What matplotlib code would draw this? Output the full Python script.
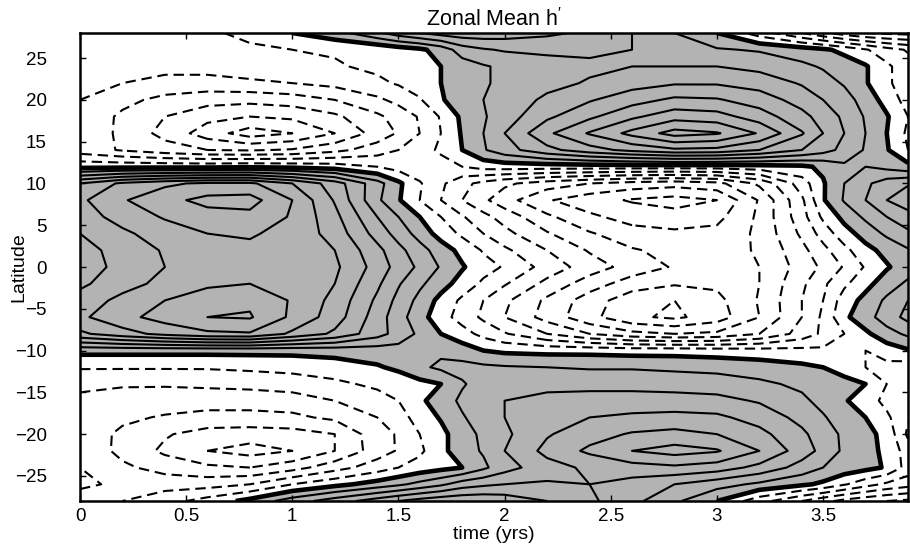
import numpy as np
import matplotlib
matplotlib.use("Agg")
import matplotlib.pyplot as plt

plt.rcParams['font.family'] = ['Liberation Sans', 'DejaVu Sans']
plt.rcParams['mathtext.fontset'] = 'custom'
plt.rcParams['mathtext.rm'] = 'Liberation Sans'
plt.rcParams['lines.dashed_pattern'] = [5.0, 2.8]

# ---- data ----
time_yrs = [0.0, 0.2, 0.4, 0.6, 0.8, 1.0, 1.2, 1.4, 1.5, 1.6, 1.7, 1.8, 1.9,
            2.0, 2.2, 2.4, 2.6, 2.8, 3.0, 3.2, 3.4, 3.5, 3.6, 3.7, 3.8, 3.9]
latitude = [-28, -26, -24, -22, -20, -18, -16, -14, -12, -10, -8, -6, -4, -2,
            0, 2, 4, 6, 8, 10, 12, 14, 16, 18, 20, 22, 24, 26, 28]

h_S28 = [-2.5, -2.0, -1.4, -0.6, 0.3, 1.5, 2.5, 3.5, 4.0, 4.4, 4.7, 4.8, 4.8, 4.6, 4.0, 3.2, 2.3, 1.2, 0.0, -1.6, -3.0, -3.7, -4.3, -4.7, -5.0, -5.2]
h_S26 = [-1.8, -2.2, -2.4, -2.4, -2.0, -1.0, -0.3, 0.4, 0.8, 1.3, 1.8, 2.5, 2.8, 3.0, 3.1, 3.0, 2.6, 2.0, 1.4, 0.8, 0.2, -0.2, -0.9, -1.6, -2.2, -2.6]
h_S24 = [-2.0, -2.8, -3.4, -3.8, -4.0, -3.4, -2.4, -1.5, -1.0, -0.6, -0.3, 0.0, 0.8, 1.6, 2.6, 3.2, 3.6, 3.8, 3.5, 2.7, 1.6, 1.0, 0.6, 0.3, -0.1, -1.4]
h_S22 = [-2.2, -3.3, -4.2, -5.0, -5.4, -5.0, -4.0, -2.5, -1.9, -1.2, -0.3, 0.6, 1.1, 2.0, 3.3, 4.2, 5.0, 5.4, 5.1, 4.0, 2.5, 1.7, 0.8, 0.3, -0.2, -1.5]
h_S20 = [-2.4, -3.2, -3.9, -4.4, -4.5, -4.4, -4.0, -2.4, -1.9, -1.0, -0.3, 0.6, 1.2, 1.8, 2.9, 3.6, 4.1, 4.3, 4.0, 3.3, 2.2, 1.5, 0.8, 0.3, -0.3, -2.2]
h_S18 = [-2.4, -2.8, -3.1, -3.3, -3.3, -3.2, -2.8, -2.0, -1.4, -0.6, 0.1, 0.9, 1.5, 2.0, 2.6, 3.0, 3.2, 3.3, 3.2, 2.6, 1.7, 1.1, 0.5, 0.0, -0.8, -1.9]
h_S16 = [-2.2, -2.4, -2.5, -2.6, -2.6, -2.5, -2.0, -1.4, -1.0, -0.2, 0.5, 1.2, 1.7, 2.0, 2.3, 2.4, 2.4, 2.4, 2.3, 1.9, 1.2, 0.7, 0.1, -0.5, -1.3, -1.8]
h_S14 = [-1.8, -1.9, -1.9, -1.8, -1.7, -1.5, -1.2, -0.8, -0.6, -0.3, 0.0, 0.9, 1.4, 1.6, 1.7, 1.7, 1.7, 1.6, 1.5, 1.2, 0.8, 0.6, 0.4, 0.0, -1.0, -1.6]
h_S12 = [-0.9, -0.9, -0.9, -0.9, -0.8, -0.7, -0.5, -0.1, 0.2, 0.8, 1.2, 1.3, 1.2, 1.1, 1.0, 0.9, 0.9, 0.8, 0.7, 0.5, 0.2, 0.0, -0.5, -1.0, -1.3, -1.5]
h_S10 = [0.3, 0.3, 0.3, 0.3, 0.3, 0.3, 0.4, 0.5, 0.6, 0.8, 0.8, 0.5, 0.0, -0.2, -0.3, -0.3, -0.4, -0.4, -0.5, -0.6, -0.7, -0.8, -0.9, -1.0, -0.5, -0.1]
h_S08 = [3.8, 4.6, 5.3, 5.8, 5.9, 4.8, 3.8, 2.4, 1.6, 0.8, 0.0, -0.6, -1.3, -1.9, -3.0, -4.0, -4.7, -5.0, -4.8, -4.0, -2.6, -1.8, -1.0, -0.2, 0.6, 1.2]
h_S06 = [4.8, 5.7, 6.4, 7.0, 7.1, 5.8, 4.5, 2.5, 1.4, 0.4, -0.6, -1.4, -2.2, -3.0, -4.4, -5.7, -6.8, -7.2, -6.5, -5.0, -3.0, -1.8, -0.2, 0.6, 1.5, 2.3]
h_S04 = [4.4, 5.3, 6.0, 6.6, 6.8, 5.9, 4.7, 2.8, 1.7, 0.7, -0.3, -1.2, -2.0, -2.8, -4.2, -5.5, -6.6, -7.0, -6.3, -4.9, -3.0, -2.0, -0.5, 0.3, 1.2, 2.0]
h_S02 = [3.8, 4.6, 5.3, 5.8, 6.0, 5.6, 5.0, 3.2, 2.1, 1.2, 0.4, -0.4, -1.2, -1.9, -3.3, -4.5, -5.5, -5.9, -5.8, -5.0, -3.2, -2.2, -1.2, -0.3, 0.5, 1.2]
h_EQ00 = [3.5, 4.3, 5.0, 5.5, 5.7, 5.6, 5.2, 3.6, 2.6, 1.8, 0.9, 0.1, -0.6, -1.1, -2.4, -3.5, -4.4, -5.1, -5.3, -5.0, -3.6, -2.8, -1.9, -0.9, -0.1, 0.5]
h_N02 = [3.6, 4.4, 5.1, 5.6, 5.8, 5.6, 5.0, 3.3, 2.3, 1.4, 0.5, -0.3, -1.1, -1.8, -3.0, -4.1, -4.9, -5.3, -5.4, -4.9, -3.3, -2.3, -1.3, -0.3, 0.3, 0.9]
h_N04 = [4.0, 4.8, 5.5, 6.0, 6.1, 5.7, 4.6, 2.6, 1.6, 0.6, -0.4, -1.2, -2.0, -2.7, -3.9, -4.9, -5.6, -5.8, -5.7, -4.8, -2.8, -1.6, -0.4, 0.4, 1.2, 1.8]
h_N06 = [4.5, 5.4, 6.1, 6.6, 6.7, 5.9, 4.3, 2.0, 1.0, 0.0, -1.0, -1.9, -2.7, -3.4, -4.8, -5.8, -6.4, -6.6, -6.3, -4.8, -2.4, -0.8, 0.3, 1.2, 2.0, 2.6]
h_N08 = [4.8, 5.9, 6.7, 7.3, 7.4, 6.0, 3.9, 1.2, 0.1, -1.0, -2.0, -3.0, -3.8, -4.6, -5.9, -6.6, -7.1, -7.4, -7.0, -4.9, -2.2, -0.1, 1.1, 2.0, 3.0, 3.6]
h_N10 = [4.0, 5.2, 5.8, 6.2, 6.2, 5.0, 3.5, 1.4, 0.2, -0.9, -1.8, -2.7, -3.3, -3.8, -4.5, -5.0, -5.4, -5.6, -5.3, -3.8, -1.5, -0.1, 1.0, 1.8, 2.5, 2.9]
h_N12 = [-0.3, -0.3, -0.3, -0.3, -0.2, -0.3, -0.5, -1.0, -1.4, -1.6, -1.5, -1.0, -0.6, -0.5, -0.5, -0.5, -0.5, -0.5, -0.5, -0.4, -0.2, 0.2, 0.8, 1.0, 0.7, 0.3]
h_N14 = [-2.5, -3.1, -3.6, -4.0, -4.1, -3.9, -3.3, -2.5, -2.0, -1.5, -0.8, 0.0, 0.9, 1.6, 2.7, 3.6, 4.3, 4.8, 4.7, 4.0, 3.0, 2.4, 1.7, 0.9, 0.1, -1.0]
h_N16 = [-2.0, -3.3, -4.3, -5.5, -6.5, -6.0, -5.0, -3.6, -2.9, -2.0, -1.0, 0.1, 1.0, 2.0, 3.8, 5.1, 6.3, 7.4, 7.1, 5.9, 4.1, 3.0, 2.0, 1.0, 0.0, -1.2]
h_N18 = [-2.2, -3.2, -4.0, -4.7, -5.0, -4.8, -4.2, -3.2, -2.6, -1.9, -0.9, 0.2, 0.9, 1.5, 2.8, 3.8, 4.8, 5.6, 5.4, 4.5, 3.3, 2.6, 1.8, 0.9, 0.1, -1.0]
h_N20 = [-2.0, -2.7, -3.3, -3.6, -3.7, -3.5, -3.0, -2.2, -1.7, -1.1, -0.1, 0.5, 1.0, 1.4, 2.2, 2.9, 3.6, 4.2, 4.1, 3.5, 2.6, 2.0, 1.4, 0.6, -0.4, -1.4]
h_N22 = [-1.6, -2.0, -2.3, -2.4, -2.2, -2.0, -1.7, -1.2, -0.9, -0.5, 0.0, 0.5, 0.9, 1.2, 1.7, 2.1, 2.6, 2.9, 2.9, 2.6, 1.9, 1.4, 0.9, 0.1, -0.8, -1.6]
h_N24 = [-1.4, -1.6, -1.7, -1.6, -1.4, -1.3, -1.1, -0.8, -0.6, -0.3, 0.0, 0.5, 0.9, 1.2, 1.6, 1.8, 2.0, 2.0, 2.0, 1.7, 1.2, 0.9, 0.6, 0.1, -0.8, -1.6]
h_N26 = [-1.6, -1.6, -1.5, -1.4, -1.2, -1.0, -0.9, -0.8, -0.5, -0.2, 0.4, 1.5, 1.9, 2.1, 2.2, 2.2, 2.0, 1.4, 1.1, 0.9, 0.5, 0.2, -0.3, -0.9, -1.6, -2.1]
h_N28 = [-2.0, -1.8, -1.5, -1.2, -0.7, 0.0, 0.6, 1.8, 2.5, 3.0, 3.4, 3.6, 3.6, 3.5, 3.2, 2.8, 2.0, 1.0, 0.0, -1.5, -3.0, -3.8, -4.5, -5.0, -5.2, -5.3]

neg_levels = [-8, -7, -6, -5, -4, -3, -2, -1]
pos_levels = [1, 2, 3, 4, 5, 6, 7, 8]
x_ticks = [0, 0.5, 1, 1.5, 2, 2.5, 3, 3.5]
x_tick_labels = ['0', '0.5', '1', '1.5', '2', '2.5', '3', '3.5']
y_ticks = [-25, -20, -15, -10, -5, 0, 5, 10, 15, 20, 25]

H = np.array([h_S28, h_S26, h_S24, h_S22, h_S20, h_S18, h_S16, h_S14, h_S12,
              h_S10, h_S08, h_S06, h_S04, h_S02, h_EQ00, h_N02, h_N04, h_N06,
              h_N08, h_N10, h_N12, h_N14, h_N16, h_N18, h_N20, h_N22, h_N24,
              h_N26, h_N28])

fig = plt.figure(figsize=(9.1, 5.52), dpi=100)
ax = fig.add_axes([80 / 910, 51 / 552, 828 / 910, 468 / 552])

ax.contourf(time_yrs, latitude, H, levels=[0, 100], colors=['#b3b3b3'])
ax.contour(time_yrs, latitude, H, levels=neg_levels, colors='k',
           linewidths=1.5, linestyles='dashed')
ax.contour(time_yrs, latitude, H, levels=pos_levels, colors='k',
           linewidths=1.5, linestyles='solid')
ax.contour(time_yrs, latitude, H, levels=[0], colors='k', linewidths=3.3,
           linestyles='solid')

ax.set_xlim(0, 3.9)
ax.set_ylim(-28, 28)
ax.set_xticks(x_ticks)
ax.set_xticklabels(x_tick_labels)
ax.set_yticks(y_ticks)
ax.tick_params(direction='in', length=4, width=1, labelsize=13.5,
               top=True, right=True)
ax.tick_params(axis='x', pad=5)
ax.tick_params(axis='y', pad=24)
for s in ax.spines.values():
    s.set_linewidth(1.8)

ax.set_xlabel('time (yrs)', fontsize=14, labelpad=1)
ax.set_ylabel('Latitude', fontsize=14)
ax.yaxis.set_label_coords(-0.064, 0.5)
ax.set_title("Zonal Mean h$^{\\prime}$", fontsize=15.5, pad=5)

fig.savefig('out.png', dpi=100)
